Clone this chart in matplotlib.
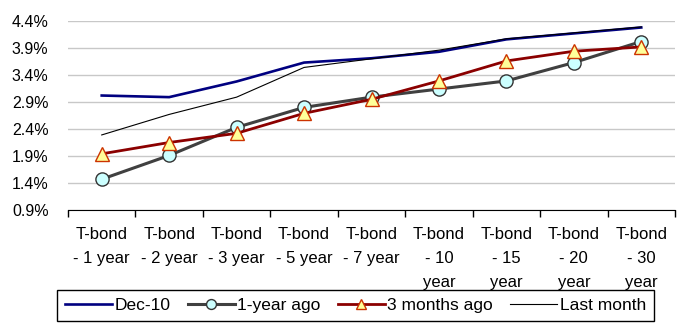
import matplotlib
matplotlib.use("Agg")
import matplotlib.pyplot as plt
import numpy as np

# Treasury yield curve, % by maturity
maturities = ["T-bond\n- 1 year", "T-bond\n- 2 year", "T-bond\n- 3 year",
              "T-bond\n- 5 year", "T-bond\n- 7 year", "T-bond\n- 10\nyear",
              "T-bond\n- 15\nyear", "T-bond\n- 20\nyear", "T-bond\n- 30\nyear"]
dec10 = [3.02, 2.99, 3.28, 3.63, 3.71, 3.83, 4.06, 4.17, 4.28]
year_ago = [1.47, 1.91, 2.43, 2.80, 2.99, 3.14, 3.29, 3.63, 4.02]
three_months_ago = [1.94, 2.15, 2.32, 2.69, 2.95, 3.29, 3.66, 3.84, 3.92]
last_month = [2.29, 2.67, 2.99, 3.54, 3.70, 3.86, 4.07, 4.18, 4.29]
yticks = [0.9, 1.4, 1.9, 2.4, 2.9, 3.4, 3.9, 4.4]

plt.rcParams["font.family"] = ["Liberation Sans", "DejaVu Sans"]

W, H = 683, 325
fig = plt.figure(figsize=(W / 100, H / 100), dpi=100)
ax = fig.add_axes([68 / W, 1 - 210 / H, (675 - 68) / W, (210 - 21) / H])

x = np.arange(len(maturities))
ax.plot(x, dec10, color="#000080", lw=1.9, label="Dec-10", zorder=3)
ax.plot(x, year_ago, color="#404040", lw=2.2, marker="o", ms=9.5,
        mfc="#CCFFFF", mec="#333333", mew=1.0, label="1-year ago", zorder=4)
ax.plot(x, three_months_ago, color="#8B0000", lw=2.0, marker="^", ms=10,
        mfc="#FFFF99", mec="#CC3300", mew=1.0, label="3 months ago", zorder=5)
ax.plot(x, last_month, color="black", lw=0.8, label="Last month", zorder=3)

ax.set_xlim(-0.5, len(maturities) - 0.5)
ax.set_ylim(0.9, 4.4)
ax.set_yticks(yticks)
ax.set_yticklabels([f"{v:.1f}%" for v in yticks], fontsize=11.5)
ax.tick_params(axis="y", length=0, pad=14)
ax.yaxis.grid(True, color="#C8C8C8", lw=1.0)
ax.set_axisbelow(True)

# boundaries get tick marks, centres get the labels
ax.set_xticks(np.arange(len(maturities) + 1) - 0.5)
ax.set_xticklabels([])
ax.tick_params(axis="x", which="major", length=5, width=1, color="black", direction="out")
ax.set_xticks(x, minor=True)
ax.set_xticklabels(maturities, minor=True, fontsize=12, linespacing=1.78)
ax.tick_params(axis="x", which="minor", length=0, pad=12)

for s in ("left", "top", "right"):
    ax.spines[s].set_visible(False)
ax.spines["bottom"].set_color("black")

leg = fig.legend(loc="upper left", ncol=4, mode="expand",
                 bbox_to_anchor=(57 / W, 1 - 290 / H - 0.01, (654 - 57) / W, 0.01),
                 borderaxespad=0, borderpad=0.45, handlelength=2.7, handletextpad=0.15,
                 markerscale=0.75, prop={"size": 12.5},
                 frameon=True, fancybox=False, framealpha=1, edgecolor="black")
leg.get_frame().set_linewidth(1.0)
leg.set_zorder(10)

fig.savefig("out.png", dpi=100)
